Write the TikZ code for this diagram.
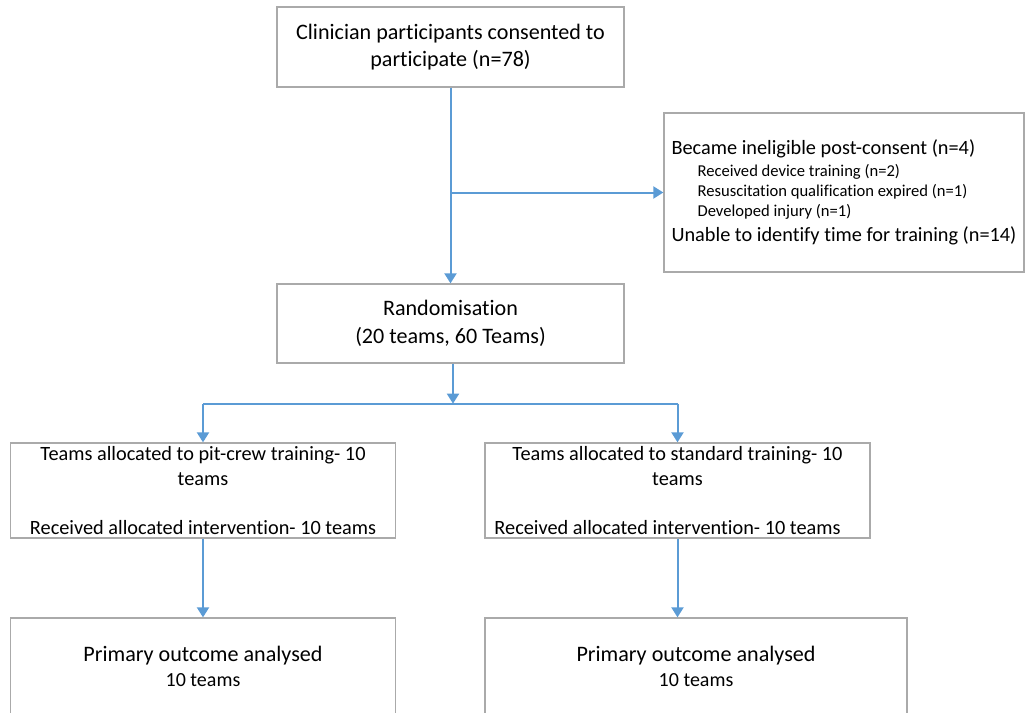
\documentclass[tikz,border=0pt]{standalone}
\usepackage{fontspec}
\setmainfont[Ligatures=NoCommon]{Carlito}
\usepackage{tikz}
\usetikzlibrary{arrows.meta, positioning}

\definecolor{flowblue}{RGB}{91,155,213}
\definecolor{boxgray}{RGB}{170,170,170}

\begin{document}
\begin{tikzpicture}[x=1pt, y=-1pt,
  box/.style={draw=boxgray, line width=1.3pt, inner sep=0pt, align=center},
  flow/.style={draw=flowblue, line width=2pt, -{Triangle[width=12pt, length=10pt]}},
  link/.style={draw=flowblue, line width=2pt}]
\clip (0,0) rectangle (1025,712);

\node[box, minimum width=347pt, minimum height=80pt, font=\fontsize{22.1}{27.5}\selectfont]
  (consent) at (450.5,47) {Clinician participants consented to\\participate (n=78)};
\node[box, minimum width=360pt, minimum height=159pt, align=left, font=\fontsize{20.3}{24.6}\selectfont]
  (excl) at (844,192.5) {Became ineligible post-consent (n=4)\\[-2.6pt]
  \hspace*{26pt}{\fontsize{16.6}{20}\selectfont Received device training (n=2)}\\[-4.6pt]
  \hspace*{26pt}{\fontsize{16.6}{20}\selectfont Resuscitation qualification expired (n=1)}\\[-4.6pt]
  \hspace*{26pt}{\fontsize{16.6}{20}\selectfont Developed injury (n=1)}\\[0.4pt]
  Unable to identify time for training (n=14)};
\node[box, minimum width=347pt, minimum height=79pt, font=\fontsize{22.1}{27.5}\selectfont]
  (rand) at (450.5,323.5) {Randomisation\\(20 teams, 60 Teams)};

% Two arms
\node[box, minimum width=385pt, minimum height=95pt, font=\fontsize{20.3}{24.6}\selectfont]
  (armA) at (203,490.5) {Teams allocated to pit-crew training- 10\\teams\\[24.6pt]Received allocated intervention- 10 teams};
\node[box, minimum width=385pt, minimum height=95pt, font=\fontsize{20.3}{24.6}\selectfont]
  (armB) at (677.5,490.5) {Teams allocated to standard training- 10\\teams\\[24.6pt]Received allocated intervention- 10 teams\hspace*{20pt}};

\node[box, minimum width=385pt, minimum height=96pt, font=\fontsize{22.1}{25}\selectfont]
  (outA) at (203,666) {Primary outcome analysed\\{\fontsize{20}{25}\selectfont 10 teams}};
\node[box, minimum width=422pt, minimum height=96pt, font=\fontsize{22.1}{25}\selectfont]
  (outB) at (696,666) {Primary outcome analysed\\{\fontsize{20}{25}\selectfont 10 teams}};

\coordinate (split) at (consent.south |- excl.west);
\coordinate[below=40pt of rand.south, xshift=2.5pt] (fork);

\draw[flow] (consent) -- (rand);
\draw[flow] (split) -- (excl);
\draw[flow] (rand.south -| fork) -- (fork);
\draw[link] (armA.north |- fork) -- (armB.north |- fork);
\draw[flow] (armA.north |- fork) -- (armA);
\draw[flow] (armB.north |- fork) -- (armB);
\draw[flow] (armA) -- (outA);
\draw[flow] (armB.south) -- (armB.south |- outB.north);
\end{tikzpicture}
\end{document}
